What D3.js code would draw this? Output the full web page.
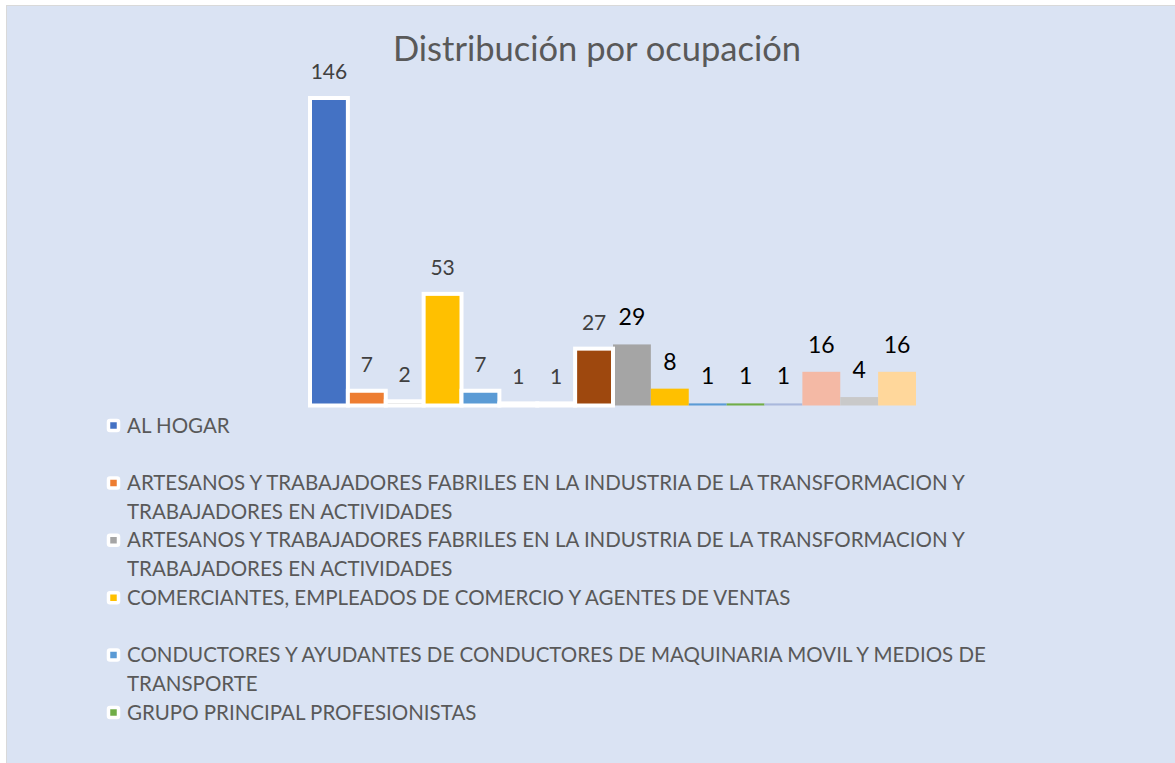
<!DOCTYPE html>
<html>
<head>
<meta charset="utf-8">
<script src="https://cdn.jsdelivr.net/npm/d3@7"></script>
<style>
  body { margin: 0; background: #fff; }
  svg text { font-family: Lato, "Liberation Sans", sans-serif; }
</style>
</head>
<body>
<div id="chart"></div>
<script>
// chart data
var values = [146, 7, 2, 53, 7, 1, 1, 27, 29, 8, 1, 1, 1, 16, 4, 16];
var barColors = ["#4472c4", "#ed7d31", "#a5a5a5", "#ffc000", "#5b9bd5", "#70ad47", "#264478", "#9e480e",
                 "#a5a5a5", "#ffc000", "#5b9bd5", "#70ad47", "#a9b8dc", "#f4b9a5", "#c9c9c9", "#ffd79b"];
// first 8 bars have a white border and gray labels, the rest do not
var outlined = [true, true, true, true, true, true, true, true,
                false, false, false, false, false, false, false, false];
var legendNames = [
  ["AL HOGAR"],
  ["ARTESANOS Y TRABAJADORES FABRILES EN LA INDUSTRIA DE LA TRANSFORMACION Y", "TRABAJADORES EN ACTIVIDADES"],
  ["ARTESANOS Y TRABAJADORES FABRILES EN LA INDUSTRIA DE LA TRANSFORMACION Y", "TRABAJADORES EN ACTIVIDADES"],
  ["COMERCIANTES, EMPLEADOS DE COMERCIO Y AGENTES DE VENTAS"],
  ["CONDUCTORES Y AYUDANTES DE CONDUCTORES DE MAQUINARIA MOVIL Y MEDIOS DE", "TRANSPORTE"],
  ["GRUPO PRINCIPAL PROFESIONISTAS"]
];
var legendColors = ["#4472c4", "#ed7d31", "#a5a5a5", "#ffc000", "#5b9bd5", "#70ad47"];
var title = "Distribución por ocupación";

var svgWidth = 1175;
var svgHeight = 763;

var svg = d3.select("#chart")
  .append("svg")
  .attr("width", svgWidth)
  .attr("height", svgHeight);

// chart area background + border
svg.append("rect")
  .attr("x", 6.5)
  .attr("y", 5.5)
  .attr("width", svgWidth + 10)
  .attr("height", svgHeight + 10)
  .attr("fill", "#dae3f3")
  .attr("stroke", "#d9d9d9")
  .attr("stroke-width", 1);

svg.append("text")
  .attr("x", 597)
  .attr("y", 61)
  .attr("text-anchor", "middle")
  .style("font-size", "34.5px")
  .style("fill", "#595959")
  .text(title);

// scales
var xScale = d3.scaleBand()
  .domain(d3.range(values.length))
  .range([310, 916])
  .padding(0);

var yScale = d3.scaleLinear()
  .domain([0, 146])
  .range([405.5, 98]);

var data = values.map(function(v, i) {
  return { i: i, value: v, color: barColors[i], outlined: outlined[i] };
});

var barGroup = svg.append("g");

// plain bars first, outlined ones on top
barGroup.selectAll("rect.plain")
  .data(data.filter(d => !d.outlined))
  .enter()
  .append("rect")
  .attr("class", "plain")
  .attr("x", d => xScale(d.i))
  .attr("y", d => yScale(d.value))
  .attr("width", xScale.bandwidth())
  .attr("height", d => yScale(0) - yScale(d.value))
  .attr("fill", d => d.color);

barGroup.selectAll("rect.outl")
  .data(data.filter(d => d.outlined))
  .enter()
  .append("rect")
  .attr("class", "outl")
  .attr("x", d => xScale(d.i))
  .attr("y", d => yScale(d.value))
  .attr("width", xScale.bandwidth())
  .attr("height", d => yScale(0) - yScale(d.value))
  .attr("fill", d => d.color)
  .attr("stroke", "#ffffff")
  .attr("stroke-width", 4);

// data labels
svg.append("g").selectAll("text")
  .data(data)
  .enter()
  .append("text")
  .attr("x", d => xScale(d.i) + xScale.bandwidth() / 2)
  .attr("y", d => yScale(d.value) - 19)
  .attr("text-anchor", "middle")
  .style("font-size", d => d.outlined ? "21px" : "23px")
  .style("fill", d => d.outlined ? "#404040" : "#000000")
  .text(d => d.value);

// legend
var legend = svg.append("g");
var entryStep = 57.4;
var lineStep = 28.7;

legendNames.forEach(function(lines, k) {
  var cy = 425.5 + k * entryStep;
  legend.append("rect")
    .attr("x", 108.5)
    .attr("y", cy - 5)
    .attr("width", 10)
    .attr("height", 10)
    .attr("rx", 1.5)
    .attr("fill", legendColors[k])
    .attr("stroke", "#ffffff")
    .attr("stroke-width", 3.5);
  lines.forEach(function(line, j) {
    legend.append("text")
      .attr("x", 127)
      .attr("y", cy + j * lineStep)
      .attr("dy", "0.35em")
      .style("font-size", "20.5px")
      .style("fill", "#595959")
      .text(line);
  });
});
</script>
</body>
</html>
